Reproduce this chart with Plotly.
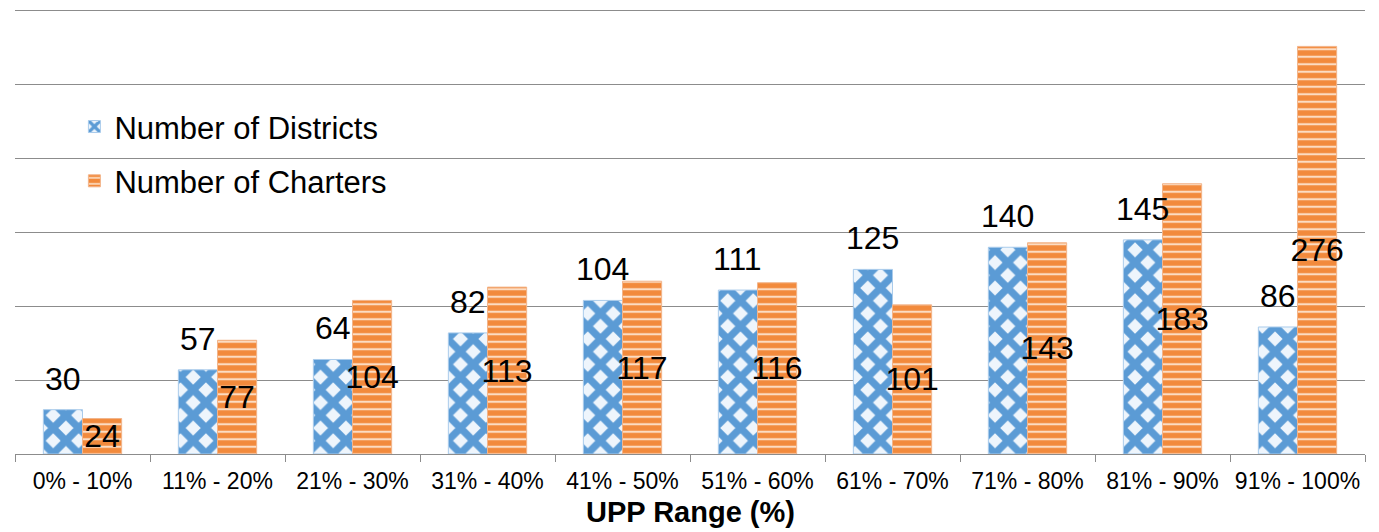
import plotly.graph_objects as go

categories = ["0% - 10%", "11% - 20%", "21% - 30%", "31% - 40%", "41% - 50%",
              "51% - 60%", "61% - 70%", "71% - 80%", "81% - 90%", "91% - 100%"]
districts = [30, 57, 64, 82, 104, 111, 125, 140, 145, 86]
charters = [24, 77, 104, 113, 117, 116, 101, 143, 183, 276]

# page body adds an 8px margin, so the figure is sized to fit the window
W, H = 1371, 524
ML, MR, MT, MB = 7, 14, 0, 78
BARGAP = 0.42
FONT = "Liberation Sans, Arial, sans-serif"

fig = go.Figure()
fig.add_trace(go.Bar(
    x=categories, y=districts, name="Number of Districts",
    legendgroup="d",
    marker=dict(color="#5B9BD5",
                line=dict(color="#A9CBEB", width=1),
                pattern=dict(shape="x", fgcolor="#5B9BD5", bgcolor="#EEF5FC",
                             size=18, solidity=0.65, fillmode="replace")),
    hoverinfo="skip",
))
fig.add_trace(go.Bar(
    x=categories, y=charters, name="Number of Charters",
    legendgroup="c",
    text=[str(v) for v in charters], textposition="inside", textangle=0,
    insidetextanchor="middle", constraintext="none",
    insidetextfont=dict(family=FONT, size=32, color="#000000"),
    marker=dict(color="#F28A3C",
                line=dict(color="#F2B48A", width=1),
                pattern=dict(shape="-", fgcolor="#FCDCC2", bgcolor="#F28A3C",
                             size=7.5, solidity=0.28, fillmode="replace")),
    hoverinfo="skip",
))

slot_px = (W - ML - MR) / len(categories)
bar_px = slot_px * (1 - BARGAP) / 2
annotations = []
for c, v in zip(categories, districts):
    annotations.append(dict(
        x=c, y=v, xref="x", yref="y", text=str(v), showarrow=False,
        xanchor="center", yanchor="bottom", xshift=-bar_px / 2, yshift=11,
        font=dict(family=FONT, size=32, color="#000000")))
annotations.append(dict(
    x=0.5, y=0, xref="paper", yref="paper", text="<b>UPP Range (%)</b>",
    showarrow=False, xanchor="center", yanchor="middle", yshift=-58,
    font=dict(family=FONT, size=29, color="#000000")))

fig.update_layout(
    width=W, height=H,
    margin=dict(l=ML, r=MR, t=MT, b=MB, autoexpand=False),
    paper_bgcolor="white", plot_bgcolor="white",
    barmode="group", bargap=BARGAP, bargroupgap=0,
    font=dict(family=FONT, color="#000000"),
    uniformtext=dict(minsize=32, mode="show"),
    showlegend=True,
    legend=dict(x=0.044, y=0.794, xanchor="left", yanchor="top",
                bgcolor="rgba(0,0,0,0)", font=dict(family=FONT, size=31),
                traceorder="grouped", tracegroupgap=11),
    xaxis=dict(showline=True, linecolor="#8C8C8C", linewidth=1,
               ticks="outside", tickson="boundaries", ticklen=7,
               tickcolor="#8C8C8C", tickfont=dict(family=FONT, size=23),
               ticklabelstandoff=6,
               showgrid=False, automargin=False),
    yaxis=dict(range=[0, 302], dtick=50, showticklabels=False,
               showgrid=True, gridcolor="#8C8C8C", gridwidth=1,
               zeroline=False, ticks="", automargin=False),
    annotations=annotations,
)

fig.write_html("out.html")
